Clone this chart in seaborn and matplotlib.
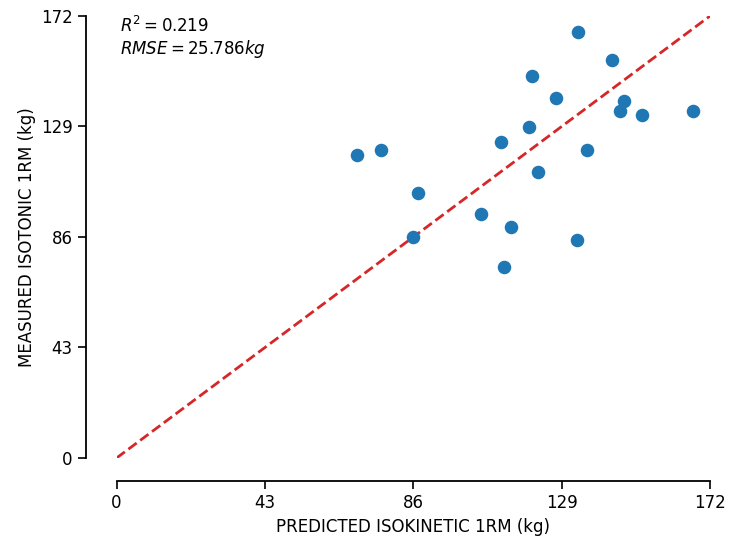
import matplotlib
matplotlib.use("Agg")
import matplotlib.pyplot as plt
import seaborn as sns
import pandas as pd
import numpy as np

# Predicted (isokinetic) vs measured (isotonic) 1RM, kg
predicted = [69.8, 76.6, 87.3, 86.0, 105.6, 114.2, 112.4, 111.4, 119.5, 120.4,
             122.1, 127.4, 133.7, 133.4, 136.3, 143.6, 145.9, 147.0, 152.4, 167.0]
measured = [118.0, 120.0, 103.0, 86.0, 95.1, 90.0, 74.5, 123.0, 128.9, 148.8,
            111.1, 139.9, 165.8, 85.0, 120.0, 154.9, 134.9, 139.1, 133.6, 135.1]
ticks = [0, 43, 86, 129, 172]
r2 = 0.219
rmse = 25.786

df = pd.DataFrame({"predicted": predicted, "measured": measured})

sns.set_style("ticks", {"axes.edgecolor": "black", "text.color": "black",
                        "axes.labelcolor": "black", "xtick.color": "black",
                        "ytick.color": "black"})
plt.rcParams["font.family"] = ["DejaVu Sans"]

fig = plt.figure(figsize=(7.31, 5.40), dpi=100)
ax = fig.add_axes([0.1595, 0.1519, 0.8118, 0.8185])

sns.scatterplot(data=df, x="predicted", y="measured", ax=ax,
                color="#1f77b4", s=95, linewidth=0, zorder=3)
ax.plot([ticks[0], ticks[-1]], [ticks[0], ticks[-1]], "--",
        color="#d62728", lw=2, zorder=2)

ax.set_xlim(ticks[0], ticks[-1])
ax.set_ylim(ticks[0], ticks[-1])
ax.set_xticks(ticks)
ax.set_yticks(ticks)
ax.tick_params(labelsize=12, length=6, width=1.2)

ax.set_xlabel("PREDICTED ISOKINETIC 1RM (kg)", fontsize=12)
ax.set_ylabel("MEASURED ISOTONIC 1RM (kg)", fontsize=12)

ax.text(0.006, 1.0, f"$R^2 = {r2:.3f}$\n$RMSE = {rmse:.3f}kg$",
        transform=ax.transAxes, ha="left", va="top", fontsize=12,
        linespacing=1.1)

sns.despine(ax=ax)
ax.spines["left"].set_position(("outward", 22))
ax.spines["bottom"].set_position(("outward", 16.5))
for s in ("left", "bottom"):
    ax.spines[s].set_linewidth(1.3)

fig.savefig("out.png", dpi=100)
